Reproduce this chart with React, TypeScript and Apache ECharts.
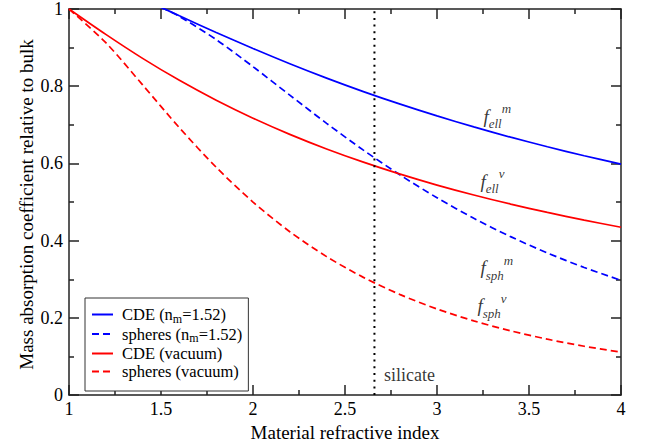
import React, { useEffect, useRef } from "react";
import * as echarts from "echarts";

// Refractive index grid and absorption ratios (relative to bulk material)
const nVacuum = [1.0, 1.2, 1.4, 1.6, 1.8, 2.0, 2.2, 2.4, 2.6, 2.8, 3.0, 3.2, 3.4, 3.6, 3.8, 4.0];
const spheresVacuum = [1.0, 0.9127, 0.8035, 0.6925, 0.59, 0.5, 0.4232, 0.3587, 0.3049, 0.2603, 0.2231, 0.1922, 0.1664, 0.1448, 0.1265, 0.1111];
const cdeVacuum = [1.0, 0.9342, 0.8721, 0.8152, 0.7637, 0.7172, 0.6753, 0.6375, 0.6033, 0.5722, 0.544, 0.5183, 0.4947, 0.4731, 0.4531, 0.4348];

const nMatrix = [1.5, 1.6, 1.8, 2.0, 2.2, 2.4, 2.6, 2.8, 3.0, 3.2, 3.4, 3.6, 3.8, 4.0];
const spheresMatrix = [1.0042, 0.9807, 0.9207, 0.8506, 0.7769, 0.7039, 0.6345, 0.57, 0.5111, 0.458, 0.4104, 0.3681, 0.3306, 0.2973];
const cdeMatrix = [1.0044, 0.9824, 0.9393, 0.8977, 0.8582, 0.821, 0.7861, 0.7535, 0.7231, 0.6946, 0.668, 0.6432, 0.6199, 0.5982];

const silicateIndex = 2.66;

const seriesNames = ["CDE (nm=1.52)", "spheres (nm=1.52)", "CDE (vacuum)", "spheres (vacuum)"];

// Curve annotations: [n, ratio, subscript, superscript]
const curveLabels: [number, number, string, string][] = [
  [3.255, 0.7215, "ell", "m"],
  [3.239, 0.552, "ell", "v"],
  [3.239, 0.329, "sph", "m"],
  [3.223, 0.2305, "sph", "v"],
];

const SERIF = "'Liberation Serif', 'Times New Roman', serif";
const AXIS_COLOR = "#222";

const pairs = (xs: number[], ys: number[]) => xs.map((x, i) => [x, ys[i]]);

function legendText(name: string): string {
  if (name.includes("nm=")) {
    const [head, tail] = name.split("nm");
    return `{a0|${head}n}{s|m}{a|${tail}}`;
  }
  return `{a0|${name}}`;
}

function axisCommon(position: string, showLabels: boolean, margin = 6) {
  return {
    type: "value" as const,
    position,
    axisLine: { show: true, onZero: false, lineStyle: { color: AXIS_COLOR, width: 1.5 } },
    axisTick: { show: true, inside: true, length: 10, lineStyle: { color: AXIS_COLOR, width: 1.5 } },
    minorTick: { show: true, splitNumber: 2, length: 5, lineStyle: { color: AXIS_COLOR, width: 1.5 } },
    splitLine: { show: false },
    axisLabel: {
      show: showLabels,
      color: "#000",
      fontFamily: SERIF,
      fontSize: 18,
      margin,
      showMinLabel: true,
      showMaxLabel: true,
    },
  };
}

export default function App() {
  const ref = useRef<HTMLDivElement>(null);

  useEffect(() => {
    if (!ref.current) return;
    const chart = echarts.init(ref.current, null, { renderer: "svg" });

    const lineSeries = (name: string, data: number[][], color: string, dashed: boolean) => ({
      name,
      type: "line" as const,
      data,
      symbol: "none",
      smooth: 0.3,
      clip: true,
      lineStyle: { color, width: 1.7, type: dashed ? [7, 4] : "solid" },
      itemStyle: { color },
    });

    const option = {
      animation: false,
      backgroundColor: "#fff",
      grid: { left: 69, right: 28, top: 7, bottom: 45 },
      xAxis: [
        {
          ...axisCommon("bottom", true, 5),
          min: 1,
          max: 4,
          interval: 0.5,
          name: "Material refractive index",
          nameLocation: "middle",
          nameGap: 22,
          nameTextStyle: { color: "#000", fontFamily: SERIF, fontSize: 19 },
        },
        { ...axisCommon("top", false), min: 1, max: 4, interval: 0.5 },
      ],
      yAxis: [
        { ...axisCommon("left", true, 6), min: 0, max: 1, interval: 0.2 },
        { ...axisCommon("right", false), min: 0, max: 1, interval: 0.2 },
      ],
      graphic: [
        {
          type: "text",
          x: 26,
          y: 204.5,
          rotation: Math.PI / 2,
          silent: true,
          style: {
            text: "Mass absorption coefficient relative to bulk",
            fontFamily: SERIF,
            fontSize: 19,
            fill: "#000",
            align: "center",
            verticalAlign: "middle",
          },
        },
      ],
      legend: {
        data: seriesNames,
        orient: "vertical",
        left: 85,
        top: 298,
        itemWidth: 21,
        itemHeight: 14,
        itemGap: 1,
        padding: [8, 6, 11, 6],
        borderColor: "#333",
        borderWidth: 1,
        backgroundColor: "#fff",
        itemStyle: { opacity: 0 },
        formatter: legendText,
        textStyle: {
          color: "#000",
          fontFamily: SERIF,
          fontSize: 16.5,
          rich: {
            a0: { fontFamily: SERIF, fontSize: 16.5, lineHeight: 20, padding: [0, 0, 0, 4], verticalAlign: "middle" },
            a: { fontFamily: SERIF, fontSize: 16.5, lineHeight: 20, verticalAlign: "middle" },
            s: { fontFamily: SERIF, fontSize: 12, lineHeight: 10, verticalAlign: "bottom" },
          },
        },
      },
      series: [
        lineSeries(seriesNames[0], pairs(nMatrix, cdeMatrix), "#0000ff", false),
        lineSeries(seriesNames[1], pairs(nMatrix, spheresMatrix), "#0000ff", true),
        lineSeries(seriesNames[2], pairs(nVacuum, cdeVacuum), "#ff0000", false),
        lineSeries(seriesNames[3], pairs(nVacuum, spheresVacuum), "#ff0000", true),
        {
          name: "silicate",
          type: "line",
          data: [
            [silicateIndex, 0],
            [silicateIndex, 1],
          ],
          symbol: "none",
          silent: true,
          lineStyle: { color: "#000", width: 2, type: [2, 4.7] },
        },
        {
          name: "annotations",
          type: "scatter",
          symbolSize: 1,
          silent: true,
          itemStyle: { color: "rgba(0,0,0,0)" },
          data: [
            ...curveLabels.map(([x, y, sub, sup]) => ({
              value: [x, y],
              label: {
                show: true,
                position: [0, 0],
                align: "left",
                verticalAlign: "middle",
                formatter: `{f|f}{sub|${sub}}{sup|${sup}}`,
                rich: {
                  f: { fontFamily: SERIF, fontStyle: "italic", fontSize: 19, lineHeight: 28, color: "#000", verticalAlign: "middle" },
                  sub: { fontFamily: SERIF, fontStyle: "italic", fontSize: 13, lineHeight: 13, color: "#000", verticalAlign: "bottom" },
                  sup: { fontFamily: SERIF, fontStyle: "italic", fontSize: 13, lineHeight: 13, color: "#000", verticalAlign: "top" },
                },
              },
            })),
            {
              value: [silicateIndex, 0.05],
              label: {
                show: true,
                position: [10, 0],
                align: "left",
                verticalAlign: "middle",
                formatter: "silicate",
                fontFamily: SERIF,
                fontSize: 18,
                color: "#000",
              },
            },
          ],
        },
      ],
    };

    chart.setOption(option as any);
    return () => chart.dispose();
  }, []);

  return (
    <div
      ref={ref}
      style={{ position: "fixed", left: 0, top: 0, width: 649, height: 447, background: "#fff" }}
    />
  );
}
